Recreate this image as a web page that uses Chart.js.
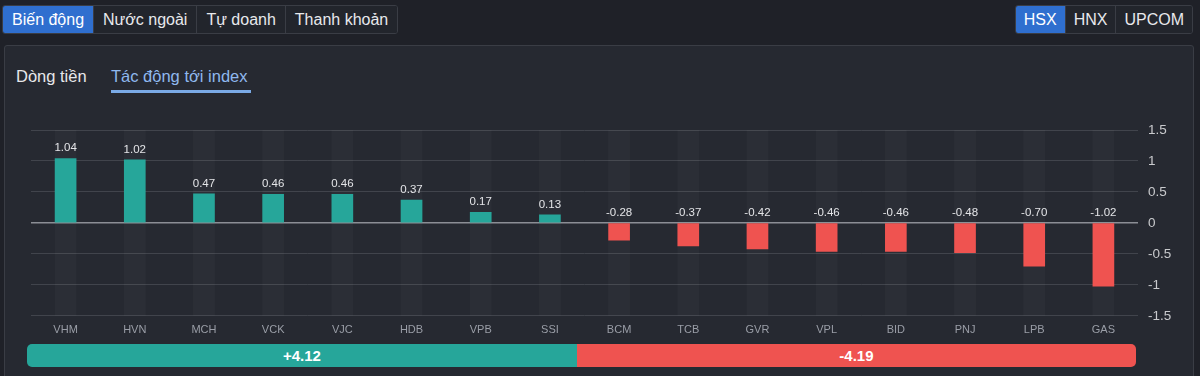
<!DOCTYPE html>
<html>
<head>
<meta charset="utf-8">
<script src="https://cdn.jsdelivr.net/npm/chart.js@4.4.0/dist/chart.umd.min.js"></script>
<style>
  html, body { margin:0; padding:0; width:1200px; height:376px; overflow:hidden; background:#1f2128; font-family: Arial, "Liberation Sans", Helvetica, sans-serif; }
  .tabs { position:absolute; top:5px; display:flex; border:1px solid #3a3d45; border-radius:3px; overflow:hidden; }
  .tabs div { height:27px; line-height:27px; padding:0 8px; color:#e8e9ec; font-size:16px; border-right:1px solid #3a3d45; background:#22252c; }
  .tabs.l div { padding:0 9px; }
  .tabs div:last-child { border-right:none; }
  .tabs div.active { background:#2f6fcf; color:#fff; }
  .panel { position:absolute; left:4px; top:45px; width:1188px; height:340px; background:#262931; border:1px solid #3a3d45; border-radius:3px; }
  .sub { position:absolute; top:67px; font-size:16.5px; color:#e6e7ea; }
  .sub.active { color:#8fb8ee; }
  .uline { position:absolute; left:111px; top:90px; width:140px; height:3px; background:#7aaae6; }
  #wrap { position:absolute; left:0; top:100px; width:1200px; height:247px; }
  .sum { position:absolute; left:27px; top:344px; width:1109px; height:23px; display:flex; border-radius:5px; overflow:hidden; font-weight:bold; font-size:15px; color:#fff; }
  .sum div { display:flex; align-items:center; justify-content:center; }
</style>
</head>
<body>
<div class="tabs l" style="left:2px;">
  <div class="active">Biến động</div><div>Nước ngoài</div><div>Tự doanh</div><div>Thanh khoản</div>
</div>
<div class="tabs" style="right:7px;">
  <div class="active">HSX</div><div>HNX</div><div>UPCOM</div>
</div>
<div class="panel"></div>
<div class="sub" style="left:16px;">Dòng tiền</div>
<div class="sub active" style="left:111px;">Tác động tới index</div>
<div class="uline"></div>
<div id="wrap"><canvas id="c"></canvas></div>
<div class="sum"><div id="sp" style="background:#26a69a;"></div><div id="sn" style="background:#ef5350;"></div></div>
<script>
const categories = ["VHM","HVN","MCH","VCK","VJC","HDB","VPB","SSI","BCM","TCB","GVR","VPL","BID","PNJ","LPB","GAS"];
const impactValues = [1.04,1.02,0.47,0.46,0.46,0.37,0.17,0.13,-0.28,-0.37,-0.42,-0.46,-0.46,-0.48,-0.70,-1.02];
const yTicks = [1.5,1,0.5,0,-0.5,-1,-1.5];
const totalPositive = 4.12;
const totalNegative = -4.19;

const GREEN = '#26a69a', RED = '#ef5350';

const labelPlugin = {
  id: 'vlabels',
  afterDatasetsDraw(chart) {
    const meta = chart.getDatasetMeta(1);
    const ctx = chart.ctx;
    const y0 = chart.scales.y.getPixelForValue(0);
    ctx.save();
    ctx.font = '11.5px Arial, "Liberation Sans", sans-serif';
    ctx.fillStyle = '#e4e5e8';
    ctx.textAlign = 'center';
    ctx.textBaseline = 'alphabetic';
    meta.data.forEach((bar, i) => {
      const v = impactValues[i];
      const top = Math.min(bar.y, y0);
      ctx.fillText(v.toFixed(2), bar.x, top - 7);
    });
    ctx.restore();
  }
};

new Chart(document.getElementById('c'), {
  type: 'bar',
  data: {
    labels: categories,
    datasets: [
      {
        data: categories.map(() => [yTicks[yTicks.length-1], yTicks[0]]),
        backgroundColor: 'rgba(255,255,255,0.028)',
        barThickness: 21, grouped: false, order: 2
      },
      {
        data: impactValues,
        backgroundColor: impactValues.map(v => v >= 0 ? GREEN : RED),
        barThickness: 21, grouped: false, order: 1
      }
    ]
  },
  options: {
    responsive: true, maintainAspectRatio: false, animation: false,
    layout: { padding: { left: 31, top: 30, right: 0, bottom: 2 } },
    plugins: { legend: { display: false }, tooltip: { enabled: false } },
    scales: {
      x: {
        grid: { display: false, drawTicks: false },
        border: { display: false },
        ticks: { color: '#9a9ea7', font: { size: 11, family: 'Arial, "Liberation Sans", sans-serif' }, padding: 8, maxRotation: 0, autoSkip: false }
      },
      y: {
        position: 'right', min: -1.5, max: 1.5,
        afterFit(axis) { axis.width = 62; },
        afterBuildTicks(axis) { axis.ticks = yTicks.map(v => ({ value: v })); },
        grid: { color: ctx => ctx.tick && ctx.tick.value === 0 ? '#8b8e95' : '#41444c', drawTicks: false, lineWidth: ctx => ctx.tick && ctx.tick.value === 0 ? 1.5 : 1 },
        border: { display: false },
        ticks: { color: '#c9cacd', font: { size: 13.5, family: 'Arial, "Liberation Sans", sans-serif' }, padding: 10, callback: v => String(v) }
      }
    }
  },
  plugins: [labelPlugin]
});

const sp = document.getElementById('sp'), sn = document.getElementById('sn');
sp.style.flex = String(totalPositive); sn.style.flex = String(Math.abs(totalNegative));
sp.textContent = '+' + totalPositive.toFixed(2);
sn.textContent = totalNegative.toFixed(2);
</script>
</body>
</html>
